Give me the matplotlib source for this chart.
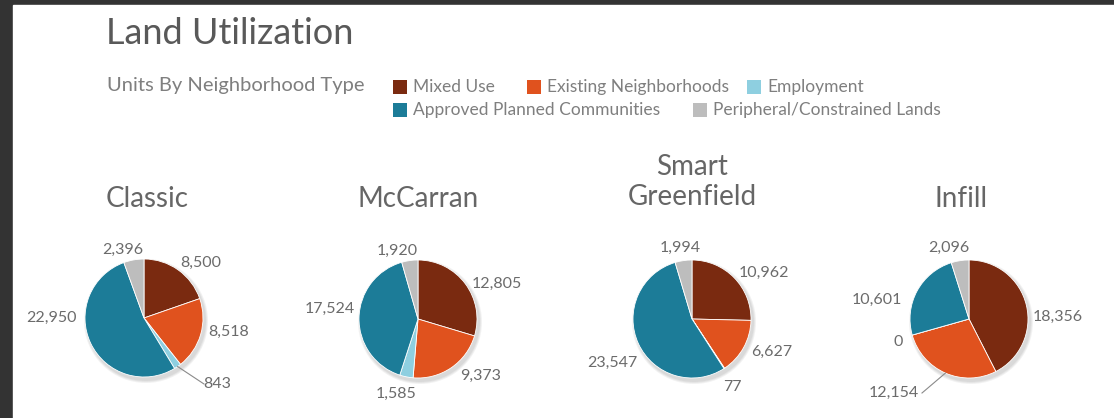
import numpy as np
import matplotlib
matplotlib.use('Agg')
import matplotlib.pyplot as plt
from matplotlib.patches import Rectangle, Circle

plt.rcParams['font.family'] = ['Lato', 'DejaVu Sans']

# data
scenarios = ['Classic', 'McCarran', 'Smart\nGreenfield', 'Infill']
categories = ['Mixed Use', 'Existing Neighborhoods', 'Employment',
              'Approved Planned Communities', 'Peripheral/Constrained Lands']
mixed_use = [8500, 12805, 10962, 18356]
existing = [8518, 9373, 6627, 12154]
employment = [843, 1585, 77, 0]
approved = [22950, 17524, 23547, 10601]
peripheral = [2396, 1920, 1994, 2096]

colors = ['#7a2a10', '#e0521e', '#8ecfe0', '#1c7c98', '#bdbdbd']
txt = '#6b6b6b'

W, H = 1114, 418
fig = plt.figure(figsize=(W / 100, H / 100), dpi=100)
fig.patch.set_facecolor('#333333')
ax = fig.add_axes([0, 0, 1, 1])

# layout (pixel positions, y measured from top)
centers = [(144, 318), (418, 319), (692, 319), (969, 319)]
radius = 59
title_pos = [(147, 199), (418, 199), (692, 182), (961, 199)]
# label offsets from pie centre (px, y down)
label_off = [
    [(57, -55), (85, 14), (73, 66), (-93, 0), (-21, -68)],
    [(79, -35), (63, 57), (-22, 75), (-88, -10), (-21, -68)],
    [(72, -46), (80, 33), (40, 68), (-80, 44), (-12, -71)],
    [(89, -2), (-75, 74), (-71, 23), (-92, -19), (-20, -71)],
]
leaders = {(0, 2): 'left', (3, 1): 'right'}

for i, name in enumerate(scenarios):
    vals = [mixed_use[i], existing[i], employment[i], approved[i], peripheral[i]]
    cx, cy = centers[i]
    # soft shadow
    for k in range(3):
        ax.add_patch(Circle((cx + 2, H - cy - 3), radius + 1 + k, color='black',
                            alpha=0.05, lw=0, zorder=1))
    wedges, _ = ax.pie(vals, colors=colors, startangle=90, counterclock=False,
                       center=(cx, H - cy), radius=radius,
                       wedgeprops=dict(edgecolor='white', linewidth=0.6, zorder=2))
    tx, ty = title_pos[i]
    ax.text(tx, H - ty, name, ha='center', va='center', fontsize=20,
            color='#666666', linespacing=1.2)
    for j, v in enumerate(vals):
        dx, dy = label_off[i][j]
        lx, ly = cx + dx, H - cy - dy
        ax.text(lx, ly, f'{v:,}', ha='center', va='center', fontsize=11.5,
                color=txt, zorder=5)
        if (i, j) in leaders:
            w = wedges[j]
            ang = np.deg2rad((w.theta1 + w.theta2) / 2)
            x0 = cx + radius * np.cos(ang)
            y0 = H - cy + radius * np.sin(ang)
            side = -1 if leaders[(i, j)] == 'left' else 1
            x1 = lx + side * (13 if side < 0 else 28)
            ax.plot([x0, x1], [y0, ly], color='#8a8a8a', lw=0.8, zorder=4)

# white panel
ax.add_patch(Rectangle((13, 0), W, H - 5, color='white', zorder=0))

ax.text(106, H - 33, 'Land Utilization', fontsize=26, color='#595959',
        va='center', ha='left')
ax.text(107, H - 86, 'Units By Neighborhood Type', fontsize=14.5,
        color='#7f7f7f', va='center', ha='left')

# legend laid out like the original (two rows)
leg_pos = [(393, 87), (527, 87), (747, 87), (393, 110), (693, 110)]
for j, lab in enumerate(categories):
    x, y = leg_pos[j]
    ax.add_patch(Rectangle((x, H - y - 7), 14, 14, color=colors[j], lw=0))
    ax.text(x + 20, H - y, lab, fontsize=12.5, color='#7f7f7f', va='center',
            ha='left')

ax.set_xlim(0, W)
ax.set_ylim(0, H)
ax.set_aspect('auto')
ax.axis('off')

fig.savefig('out.png', dpi=100, facecolor=fig.get_facecolor())
